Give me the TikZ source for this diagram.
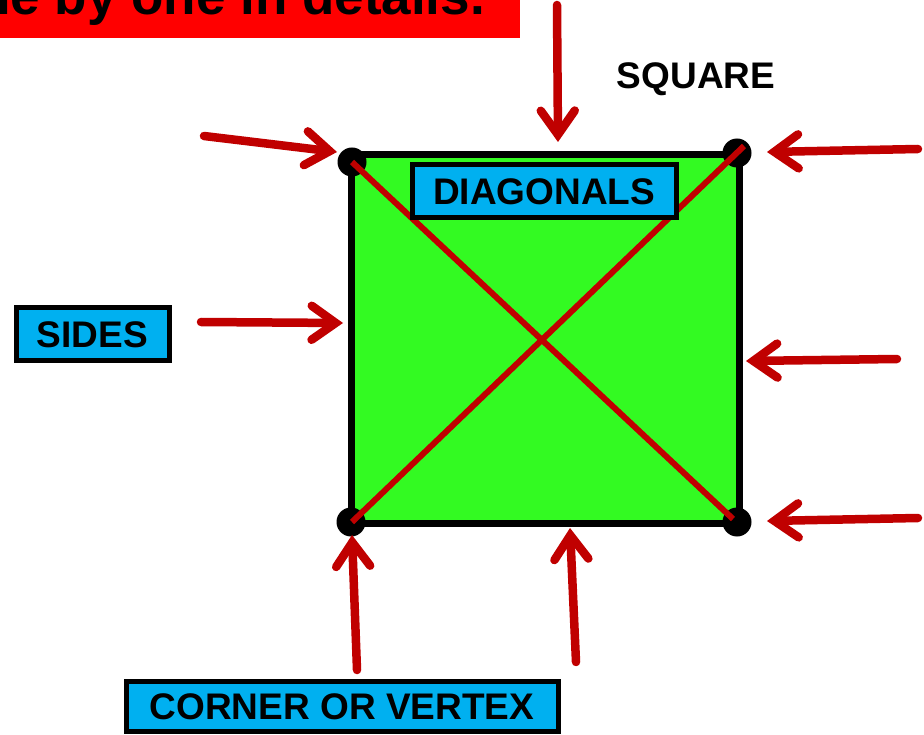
\documentclass[tikz,border=0pt]{standalone}
\usepackage{fontspec}
\setmainfont{Liberation Sans}
\usetikzlibrary{arrows.meta}
\definecolor{sqgreen}{RGB}{51,250,34}
\definecolor{arrred}{RGB}{192,0,0}
\definecolor{boxblue}{RGB}{0,176,240}
\definecolor{banred}{RGB}{255,0,0}
\begin{document}
\begin{tikzpicture}[x=1pt,y=-1pt,
  arr/.style={draw=arrred, line width=8.5pt, line cap=round,
    -{Straight Barb[length=24pt,width=34pt,line cap=round,line join=miter]}},
  lbl/.style={draw=black, line width=5pt, fill=boxblue,
    font=\fontsize{37}{40}\selectfont\bfseries, text height=26.5pt, text depth=0pt, inner sep=0pt},
  vdot/.style={circle, fill=black, minimum size=29pt, inner sep=0pt},
  diag/.style={draw=arrred, line width=6pt}]
\useasboundingbox (0,0) rectangle (924,735);
\clip (0,0) rectangle (924,735);
% banner
\fill[banred] (-10,-60) rectangle (520,38);
\node[anchor=base east, font=\fontsize{53}{60}\selectfont\bfseries, inner sep=0pt] (banner) at (485,15) {one by one in details.};
% square
\node[draw=black, fill=sqgreen, line width=7pt, minimum width=388pt, minimum height=368pt, inner sep=0pt] (sq) at (545,339) {};
% vertices
\node[vdot] (tl) at (352,162) {};
\node[vdot] (tr) at (737,153) {};
\node[vdot] (bl) at (351,522) {};
\node[vdot] (br) at (737,522) {};
\coordinate (dtl) at (352,162);
\coordinate (dbr) at (733,519);
\coordinate (dtr) at (744,146);
\coordinate (dbl) at (352,522);
\draw[diag] (dtl) -- (dbr);
\draw[diag] (dbl) -- (dtr);
% labels
\node[lbl, minimum width=264pt, minimum height=53pt] (diagl) at (544,191) {DIAGONALS};
\node[lbl, minimum width=153pt, minimum height=53pt] (sides) at (92.5,334.5) {SIDES};
\node[lbl, minimum width=432pt, minimum height=50pt] (corner) at (342,706) {CORNER OR VERTEX};
\node[font=\fontsize{37}{40}\selectfont\bfseries, text height=26.5pt, text depth=0pt, inner sep=0pt] (square) at (696,75.5) {SQUARE};
% arrow coordinates
\coordinate (a1s) at (204,136); \coordinate (a1e) at (337,152);
\coordinate (a2s) at (557,5);   \coordinate (a2e) at (558,142);
\coordinate (a3s) at (918,149); \coordinate (a3e) at (767,152);
\coordinate (a4s) at (201,322); \coordinate (a4e) at (343,323);
\coordinate (a5s) at (897,359); \coordinate (a5e) at (746,361);
\coordinate (a6s) at (918,518); \coordinate (a6e) at (767,521);
\coordinate (a7s) at (357,670); \coordinate (a7e) at (352,535);
\coordinate (a8s) at (576,662); \coordinate (a8e) at (570,528);
\foreach \i in {1,...,8} \draw[arr] (a\i s) -- (a\i e);
\end{tikzpicture}
\end{document}
